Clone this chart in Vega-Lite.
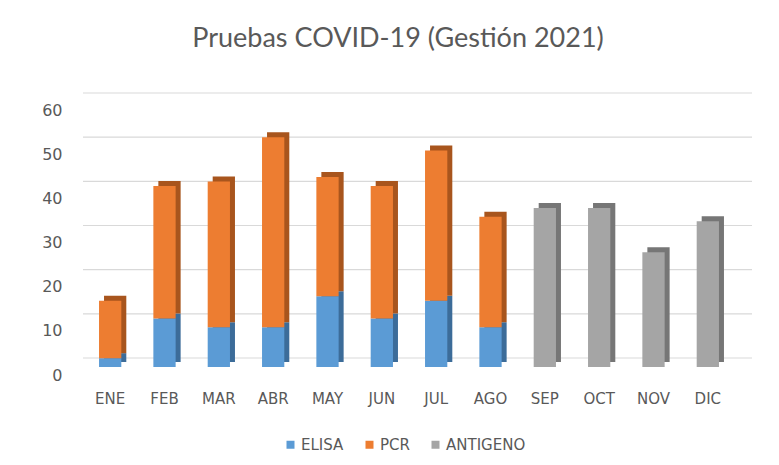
{
  "$schema": "https://vega.github.io/schema/vega-lite/v6.json",
  "width": 652,
  "height": 265,
  "autosize": {"type": "none"},
  "padding": {"left": 83, "top": 102, "right": 44, "bottom": 98},
  "background": "white",
  "config": {"view": {"stroke": null}, "font": "DejaVu Sans"},
  "title": {
    "text": "Pruebas COVID-19 (Gestión 2021)",
    "fontSize": 27,
    "font": "Lato",
    "fontWeight": "normal",
    "color": "#595959",
    "anchor": "middle",
    "dx": -11,
    "offset": 18,
    "baseline": "alphabetic"
  },
  "datasets": {
    "tests": [
      {"month": "ENE", "type": "ELISA", "value": 2},
      {"month": "ENE", "type": "PCR", "value": 13},
      {"month": "FEB", "type": "ELISA", "value": 11},
      {"month": "FEB", "type": "PCR", "value": 30},
      {"month": "MAR", "type": "ELISA", "value": 9},
      {"month": "MAR", "type": "PCR", "value": 33},
      {"month": "ABR", "type": "ELISA", "value": 9},
      {"month": "ABR", "type": "PCR", "value": 43},
      {"month": "MAY", "type": "ELISA", "value": 16},
      {"month": "MAY", "type": "PCR", "value": 27},
      {"month": "JUN", "type": "ELISA", "value": 11},
      {"month": "JUN", "type": "PCR", "value": 30},
      {"month": "JUL", "type": "ELISA", "value": 15},
      {"month": "JUL", "type": "PCR", "value": 34},
      {"month": "AGO", "type": "ELISA", "value": 9},
      {"month": "AGO", "type": "PCR", "value": 25},
      {"month": "SEP", "type": "ANTIGENO", "value": 36},
      {"month": "OCT", "type": "ANTIGENO", "value": 36},
      {"month": "NOV", "type": "ANTIGENO", "value": 26},
      {"month": "DIC", "type": "ANTIGENO", "value": 33}
    ],
    "grid": [{"g": 0}, {"g": 10}, {"g": 20}, {"g": 30}, {"g": 40}, {"g": 50}, {"g": 60}]
  },
  "layer": [
    {
      "data": {"name": "grid"},
      "mark": {"type": "rule", "color": "#d9d9d9", "strokeWidth": 1.2, "xOffset": 17, "x2Offset": 13, "yOffset": -9},
      "encoding": {
        "y": {
          "field": "g",
          "type": "quantitative",
          "scale": {"domain": [0, 60]},
          "axis": {
            "values": [0, 10, 20, 30, 40, 50, 60],
            "domain": false,
            "ticks": false,
            "grid": false,
            "labelFont": "DejaVu Sans",
            "labelFontSize": 16,
            "labelColor": "#595959",
            "labelPadding": 21,
            "labelBaseline": "top",
            "labelDy": -2,
            "title": null
          }
        }
      }
    },
    {
      "data": {"name": "tests"},
      "mark": {"type": "bar", "xOffset": 5, "yOffset": -5},
      "encoding": {
        "x": {
          "field": "month",
          "type": "nominal",
          "sort": ["ENE", "FEB", "MAR", "ABR", "MAY", "JUN", "JUL", "AGO", "SEP", "OCT", "NOV", "DIC"],
          "scale": {"paddingInner": 0.59, "paddingOuter": 0.295},
          "axis": {
            "domain": false,
            "ticks": false,
            "labelAngle": 0,
            "labelFont": "DejaVu Sans",
            "labelFontSize": 15,
            "labelColor": "#595959",
            "labelPadding": 24,
            "labelDx": -4,
            "title": null
          }
        },
        "y": {"field": "value", "type": "quantitative", "stack": "zero"},
        "order": {"field": "type", "sort": "ascending"},
        "color": {
          "field": "type",
          "type": "nominal",
          "scale": {"domain": ["ELISA", "PCR", "ANTIGENO"], "range": ["#3c6c99", "#a8551d", "#767676"]},
          "legend": null
        }
      }
    },
    {
      "data": {"name": "tests"},
      "mark": {"type": "bar"},
      "encoding": {
        "x": {
          "field": "month",
          "type": "nominal",
          "sort": ["ENE", "FEB", "MAR", "ABR", "MAY", "JUN", "JUL", "AGO", "SEP", "OCT", "NOV", "DIC"]
        },
        "y": {"field": "value", "type": "quantitative", "stack": "zero"},
        "order": {"field": "type", "sort": "ascending"},
        "color": {
          "field": "type",
          "type": "nominal",
          "scale": {"domain": ["ELISA", "PCR", "ANTIGENO"], "range": ["#5B9BD5", "#ED7D31", "#A5A5A5"]},
          "legend": {
            "title": null,
            "orient": "none",
            "direction": "horizontal",
            "legendX": 200,
            "legendY": 335,
            "symbolType": "square",
            "symbolSize": 64,
            "symbolStrokeWidth": 0,
            "labelFont": "DejaVu Sans",
            "labelFontSize": 15,
            "labelColor": "#595959",
            "labelOffset": 3,
            "columnPadding": 18
          }
        }
      }
    }
  ],
  "resolve": {"scale": {"color": "independent"}}
}
